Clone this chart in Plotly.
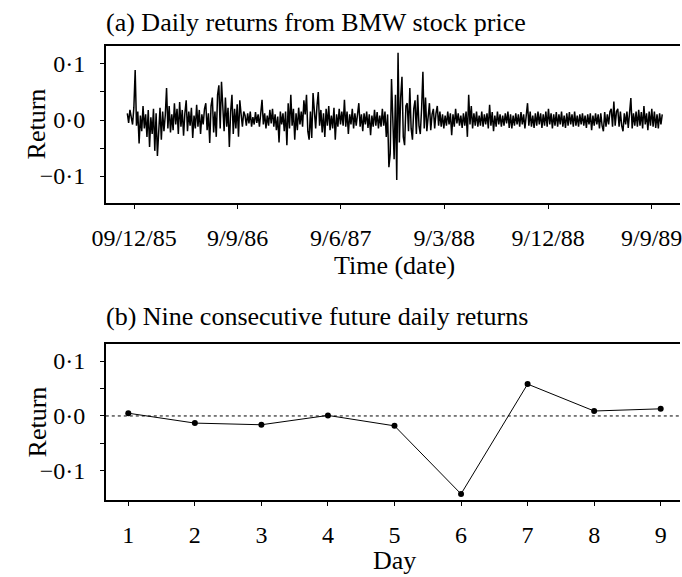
import pandas as pd
import plotly.graph_objects as go

# ---- data ----
# Panel (a): daily returns, in thousandths, read segment by segment
returns_milli = [
    12, -5, 18, 3, -8, 22, 89, -10, 15, -42, 8, -20, 25, -15, 10,
    -30, 18, -48, 5, -25, 20, -55, 12, -64, -10, 22, -35, 15, -20, 8,
    57, -15, 25, -22, 10, -18, 30, -8, 20, -25, 32, -12, 18, -28, 12,
    35, -20, 15, -10, 22, -32, 8, -15, 27, -12, 18, -25, 10, -8, 20,
    30, -18, 12, -41, 25, 40, -22, 15, -30, 45, 62, -15, 68, 30, -20,
    40, -12, 22, -48, 15, 45, -25, 20, -15, 28, -30, 35, 10, -12, 15,
    8, -10, 12, -6, 15, -12, 5, -8, 14, -5, 10, -12, 18, 36, -8,
    12, -15, 8, -10, 18, -6, 20, -12, 10, -18, 6, -40, 15, -8, 12,
    -20, 15, -45, 30, -15, 45, -10, 20, -35, 12, -18, 22, -8, 15, -12,
    35, 10, 45, -20, -35, 15, -32, 48, 20, -15, 25, 50, -10, 18, -22,
    12, -30, 20, -10, 25, -18, 8, -15, 22, -35, 10, -12, 20, -8, 15,
    -10, 36, -12, 15, -25, 10, -8, 20, -15, 12, -10, 18, 30, -12, 10,
    -20, 12, -8, 15, -14, 10, -27, 8, -12, 18, -10, 14, -15, 8, -12,
    20, -10, 15, -30, 10, -84, -60, 73, -20, -70, 45, -107, 120, -40, 40,
    77, -30, -45, 25, 30, -20, 57, -15, -35, 20, 35, -25, 45, -10, -25,
    20, 86, -15, 40, -20, 15, 30, -18, 10, 20, -15, 12, 25, -10, 15,
    -12, 10, -15, 8, -10, 15, -8, 12, -27, 10, -12, 20, -6, 12, -10,
    8, -14, 12, -10, 15, -30, 45, -8, 25, -15, 12, -10, 15, -12, 8,
    -10, 15, -12, 10, -8, 12, -15, 27, -10, 14, -20, 8, -12, 15, -8,
    10, -12, 8, -10, 12, -6, 15, -14, 10, -15, 8, -10, 12, -8, 10,
    -12, 14, -8, 10, -15, 12, 30, -10, 15, -12, 8, -14, 12, -10, 15,
    -8, 12, -14, 10, -10, 15, -12, 20, -8, 12, -15, 10, -10, 14, -12,
    10, -8, 15, -12, 8, -14, 12, -10, 14, -8, 10, -12, 15, -10, 8,
    -12, 10, -8, 12, -10, 8, -14, 10, -8, 12, -18, 8, -10, 12, -8,
    10, -15, 12, -10, -20, 14, -12, 10, -8, 15, 20, -12, 33, -10, 15,
    20, -12, 15, -10, -20, 12, -8, 15, -14, 18, 39, -15, 12, -10, 15,
    -12, 18, -10, 14, -15, 25, -8, 12, -18, 15, -10, 20, -12, 15, -14, 10, -15, 12, -8, 10,
]
series_start = "1985-11-21"
series_end = "1989-10-07"

date_tick_values = ["1985-12-09", "1986-09-09", "1987-06-09", "1988-03-09", "1988-12-09", "1989-09-09"]
date_tick_labels = ["09/12/85", "9/9/86", "9/6/87", "9/3/88", "9/12/88", "9/9/89"]

# Panel (b): nine consecutive future daily returns
days = [1, 2, 3, 4, 5, 6, 7, 8, 9]
future_returns = [0.005, -0.013, -0.016, 0.001, -0.018, -0.142, 0.058, 0.009, 0.013]

y_tick_values = [-0.1, -0.05, 0.0, 0.05, 0.1]
y_tick_labels = ["\u22120\u00b71", "", "0\u00b70", "", "0\u00b71"]

# ---- figure ----
W, H = 682, 577
returns = [v / 1000 for v in returns_milli]
dates = pd.date_range(series_start, series_end, periods=len(returns))

FONT = "Liberation Serif"

fig = go.Figure()
fig.add_trace(go.Scatter(x=dates, y=returns, mode="lines",
                         line=dict(color="black", width=1.5),
                         xaxis="x", yaxis="y", showlegend=False, hoverinfo="skip"))
fig.add_trace(go.Scatter(x=days, y=future_returns, mode="lines+markers",
                         line=dict(color="black", width=1),
                         marker=dict(color="black", size=6),
                         xaxis="x2", yaxis="y2", showlegend=False))

def px_x(p):
    return p / W

def px_y(p):
    return 1 - p / H

axis_common = dict(showline=True, linecolor="black", linewidth=1.5,
                   ticks="outside", ticklen=4, tickcolor="black", tickwidth=1,
                   showgrid=False, zeroline=False, ticklabeloverflow="allow",
                   tickfont=dict(family=FONT, size=24, color="black"))

fig.update_layout(
    width=W, height=H,
    margin=dict(l=0, r=0, t=0, b=0),
    paper_bgcolor="white", plot_bgcolor="white",
    xaxis=dict(domain=[px_x(94), 1.0], anchor="y", type="date",
               range=["1985-09-25", "1989-11-23"],
               tickmode="array", tickvals=date_tick_values, ticktext=date_tick_labels,
               mirror=True, ticklabelstandoff=8, **axis_common),
    yaxis=dict(domain=[px_y(203), px_y(46)], anchor="x",
               range=[-0.148, 0.132],
               tickmode="array", tickvals=y_tick_values, ticktext=y_tick_labels,
               ticklabelstandoff=10, **axis_common),
    xaxis2=dict(domain=[px_x(94), 1.0], anchor="y2",
                range=[0.662, 9.29],
                tickmode="array", tickvals=days, ticktext=[str(d) for d in days],
                mirror=True, ticklabelstandoff=8, **axis_common),
    yaxis2=dict(domain=[px_y(500), px_y(344)], anchor="x2",
                range=[-0.153, 0.131],
                tickmode="array", tickvals=y_tick_values, ticktext=y_tick_labels,
                ticklabelstandoff=10, **axis_common),
)

fig.add_shape(type="line", xref="x2 domain", yref="y2", x0=0, x1=1, y0=0, y1=0,
              line=dict(color="black", width=1, dash="dot"), layer="below")

def ann(text, x, y, size=26, angle=0, xanchor="center"):
    fig.add_annotation(text=text, x=px_x(x), y=px_y(y), xref="paper", yref="paper",
                       showarrow=False, textangle=angle, xanchor=xanchor, yanchor="middle",
                       font=dict(family=FONT, size=size, color="black"))

ann("(a) Daily returns from BMW stock price", 92, 22, xanchor="left")
ann("(b) Nine consecutive future daily returns", 92, 316, xanchor="left")
ann("Return", 24, 124, angle=-90)
ann("Return", 24, 422, angle=-90)
ann("Time (date)", 390, 265)
ann("Day", 390, 560)

fig.write_html(
    "out.html",
    config={"displayModeBar": False},
    post_script="document.body.style.margin='0';document.body.style.overflow='hidden';",
)
